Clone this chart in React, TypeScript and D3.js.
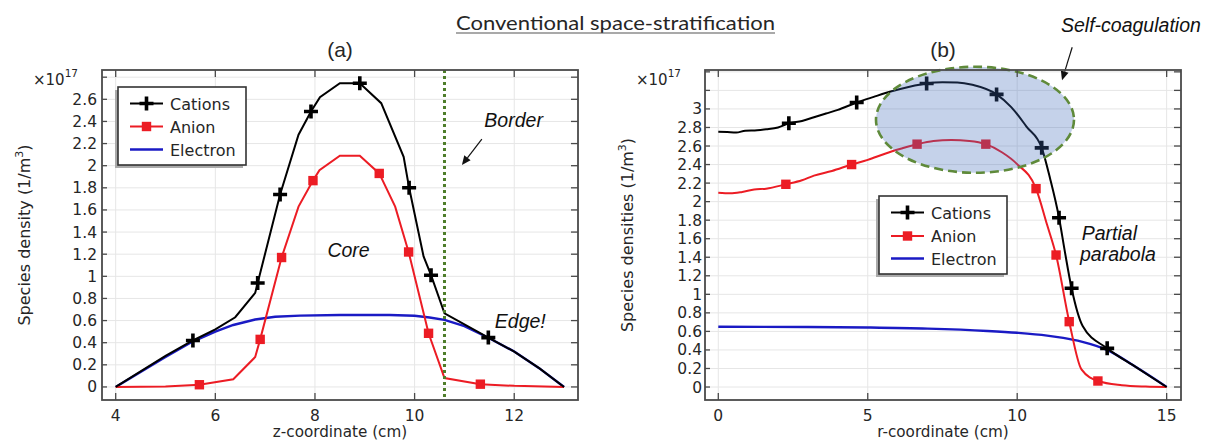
import React from "react";
import * as d3 from "d3";

type Pt = [number, number];

// ---- Panel (a): axial (z) profiles, ×10^17 m^-3 ----
const zTickValues = [4, 6, 8, 10, 12];
const yTickValuesA = [0, 0.2, 0.4, 0.6, 0.8, 1, 1.2, 1.4, 1.6, 1.8, 2, 2.2, 2.4, 2.6];
const yExtraTicksA = [2.8];

const cationsA: Pt[] = [
  [4, 0], [4.5, 0.14], [5, 0.28], [5.55, 0.42], [6, 0.52], [6.4, 0.63], [6.8, 0.85],
  [6.85, 0.94], [7.3, 1.74], [7.67, 2.28], [7.92, 2.49], [8.1, 2.62], [8.5, 2.745],
  [8.9, 2.745], [9.33, 2.565], [9.78, 2.08], [9.89, 1.8], [10.18, 1.18], [10.33, 1.01],
  [10.6, 0.666], [11.48, 0.446], [12, 0.32], [12.5, 0.17], [13, 0],
];
const cationsAMarks = [3, 7, 8, 10, 13, 16, 18, 20];

const anionA: Pt[] = [
  [4, 0], [5, 0.005], [5.68, 0.02], [6.36, 0.07], [6.8, 0.27], [6.9, 0.43], [7.33, 1.17],
  [7.67, 1.63], [7.96, 1.865], [8.09, 1.96], [8.5, 2.09], [8.9, 2.09], [9.29, 1.93],
  [9.61, 1.63], [9.88, 1.22], [10.28, 0.485], [10.6, 0.08], [11.32, 0.025], [12, 0.01], [13, 0],
];
const anionAMarks = [2, 5, 6, 8, 12, 14, 15, 17];

const electronA: Pt[] = [
  [4, 0], [4.5, 0.135], [5, 0.27], [5.5, 0.4], [6, 0.5], [6.36, 0.56], [6.8, 0.61],
  [7.2, 0.635], [7.7, 0.645], [8.5, 0.65], [9.5, 0.65], [10, 0.643], [10.3, 0.628],
  [10.6, 0.606], [11, 0.55], [11.5, 0.44], [12, 0.32], [12.5, 0.17], [13, 0],
];
const borderZ = 10.6;

// ---- Panel (b): radial (r) profiles, ×10^17 m^-3 ----
const rTickValues = [0, 5, 10, 15];
const yTickValuesB = [0, 0.2, 0.4, 0.6, 0.8, 1, 1.2, 1.4, 1.6, 1.8, 2, 2.2, 2.4, 2.6, 2.8, 3];
const yExtraTicksB = [3.2, 3.4];

const cationsB: Pt[] = [
  [0, 2.755], [0.3, 2.75], [0.6, 2.745], [0.9, 2.765], [1.3, 2.77], [1.6, 2.78], [2, 2.8],
  [2.36, 2.845], [2.8, 2.87], [3.2, 2.91], [3.6, 2.95], [4, 2.99], [4.63, 3.07], [5.2, 3.13],
  [5.8, 3.19], [6.4, 3.24], [6.97, 3.275], [7.5, 3.287], [8, 3.285], [8.5, 3.26], [9.31, 3.157],
  [9.8, 3.02], [10.31, 2.81], [10.82, 2.58], [11.1, 2.25], [11.4, 1.826], [11.6, 1.45],
  [11.82, 1.065], [12.19, 0.658], [13.01, 0.417], [14, 0.21], [15, 0],
];
const cationsBMarks = [7, 12, 16, 20, 23, 25, 27, 29];

const anionB: Pt[] = [
  [0, 2.096], [0.4, 2.09], [0.8, 2.105], [1.2, 2.13], [1.6, 2.14], [2.26, 2.187], [2.8, 2.23],
  [3.2, 2.28], [3.8, 2.33], [4.46, 2.4], [5, 2.45], [5.6, 2.52], [6.1, 2.57], [6.65, 2.62],
  [7.2, 2.655], [7.8, 2.665], [8.4, 2.655], [8.95, 2.62], [9.5, 2.53], [9.98, 2.41],
  [10.63, 2.14], [11, 1.75], [11.3, 1.424], [11.74, 0.705], [12.15, 0.19], [12.7, 0.065],
  [13.5, 0.02], [14.3, 0.005], [15, 0],
];
const anionBMarks = [5, 9, 13, 17, 20, 22, 23, 25];

const electronB: Pt[] = [
  [0, 0.65], [3, 0.648], [5, 0.642], [7, 0.63], [9, 0.605], [10, 0.585], [11, 0.555],
  [11.54, 0.53], [12.15, 0.49], [13, 0.4], [14, 0.21], [15, 0],
];

const seriesNames = ["Cations", "Anion", "Electron"];

const BLACK = "#000000";
const RED = "#ec1c24";
const BLUE = "#1a1ac4";
const GRID = "#e6e6e6";
const FRAME = "#4a4a4a";
const TXT = "#262626";
const TICK_FONT = "'DejaVu Sans', sans-serif";
const NOTE_FONT = "'Liberation Sans', Arial, sans-serif";

const fmt = (v: number) => String(+v.toFixed(1));

function Plus({ x, y }: { x: number; y: number }) {
  return <path d={`M${x - 7},${y}H${x + 7}M${x},${y - 7}V${y + 7}`} stroke={BLACK} strokeWidth={3.6} />;
}
function Square({ x, y }: { x: number; y: number }) {
  return <rect x={x - 4.7} y={y - 4.7} width={9.4} height={9.4} fill={RED} />;
}

type PanelProps = {
  left: number; right: number; top: number; bottom: number;
  xDomain: [number, number]; yDomain: [number, number];
  xTicks: number[]; yTicks: number[]; yExtra: number[];
  cations: Pt[]; cMarks: number[]; anion: Pt[]; aMarks: number[]; electron: Pt[];
  curve: d3.CurveFactory;
  yLabel: string; xLabel: string; panelTitle: string;
  labelGap: number;
  legend: { x: number; y: number; w: number; h: number; rows: number[] };
  overlay?: (x: d3.ScaleLinear<number, number>, y: d3.ScaleLinear<number, number>) => React.ReactNode;
};

function Panel(p: PanelProps) {
  const x = d3.scaleLinear().domain(p.xDomain).range([p.left, p.right]);
  const y = d3.scaleLinear().domain(p.yDomain).range([p.bottom, p.top]);
  const line = d3.line<Pt>().x((d) => x(d[0])).y((d) => y(d[1])).curve(p.curve);
  const allY = [...p.yTicks, ...p.yExtra];
  const lg = p.legend;
  const cx = (p.left + p.right) / 2;
  const cy = (p.top + p.bottom) / 2;
  return (
    <g>
      {/* grid */}
      {allY.map((v) => (
        <line key={"gy" + v} x1={p.left} x2={p.right} y1={y(v)} y2={y(v)} stroke={GRID} strokeWidth={1} />
      ))}
      {p.xTicks.map((v) => (
        <line key={"gx" + v} x1={x(v)} x2={x(v)} y1={p.top} y2={p.bottom} stroke={GRID} strokeWidth={1} />
      ))}
      {/* series */}
      <path d={line(p.electron) || ""} fill="none" stroke={BLUE} strokeWidth={2.4} />
      <path d={line(p.anion) || ""} fill="none" stroke={RED} strokeWidth={2} />
      <path d={line(p.cations) || ""} fill="none" stroke={BLACK} strokeWidth={2} />
      {p.aMarks.map((i) => <Square key={"a" + i} x={x(p.anion[i][0])} y={y(p.anion[i][1])} />)}
      {p.cMarks.map((i) => <Plus key={"c" + i} x={x(p.cations[i][0])} y={y(p.cations[i][1])} />)}
      {p.overlay && p.overlay(x, y)}
      {/* frame and ticks */}
      <rect x={p.left} y={p.top} width={p.right - p.left} height={p.bottom - p.top} fill="none" stroke={FRAME} strokeWidth={1.8} />
      {allY.map((v) => (
        <g key={"ty" + v}>
          <line x1={p.left} x2={p.left + 5} y1={y(v)} y2={y(v)} stroke={FRAME} strokeWidth={1.3} />
          <line x1={p.right - 7} x2={p.right} y1={y(v)} y2={y(v)} stroke={FRAME} strokeWidth={1.3} />
        </g>
      ))}
      {p.xTicks.map((v) => (
        <g key={"tx" + v}>
          <line x1={x(v)} x2={x(v)} y1={p.bottom - 7} y2={p.bottom} stroke={FRAME} strokeWidth={1.3} />
          <line x1={x(v)} x2={x(v)} y1={p.top} y2={p.top + 7} stroke={FRAME} strokeWidth={1.3} />
          <text x={x(v)} y={p.bottom + 21} textAnchor="middle" fontFamily={TICK_FONT} fontSize={15.5} fill={TXT}>
            {fmt(v)}
          </text>
        </g>
      ))}
      {p.yTicks.map((v) => (
        <text key={"ly" + v} x={p.left - p.labelGap} y={y(v) + 5.5} textAnchor="end" fontFamily={TICK_FONT} fontSize={15.5} fill={TXT}>
          {fmt(v)}
        </text>
      ))}
      {/* multiplier */}
      <text x={p.left - 69} y={85} fontFamily={TICK_FONT} fontSize={15} fill={TXT}>
        ×10
        <tspan dy={-8} fontSize={10.5}>17</tspan>
      </text>
      {/* axis labels */}
      <text x={cx} y={437} textAnchor="middle" fontFamily={TICK_FONT} fontSize={15.2} fill={TXT}>{p.xLabel}</text>
      <text transform={`translate(${p.left - 72},${cy}) rotate(-90)`} textAnchor="middle" fontFamily={TICK_FONT} fontSize={16} fill={TXT}>
        {p.yLabel} (1/m<tspan dy={-7} fontSize={11}>3</tspan><tspan dy={7}>)</tspan>
      </text>
      <text x={cx} y={57} textAnchor="middle" fontFamily={NOTE_FONT} fontSize={21} fill={TXT}>{p.panelTitle}</text>
      {/* legend */}
      <rect x={lg.x - 3} y={lg.y + 3} width={lg.w} height={lg.h} fill="#aaaaaa" />
      <rect x={lg.x} y={lg.y} width={lg.w} height={lg.h} fill="#ffffff" stroke="#333" strokeWidth={1.6} />
      {seriesNames.map((name, i) => {
        const ry = lg.rows[i];
        const x0 = lg.x + 12, x1 = lg.x + 45;
        const col = i === 0 ? BLACK : i === 1 ? RED : BLUE;
        return (
          <g key={name}>
            <line x1={x0} x2={x1} y1={ry} y2={ry} stroke={col} strokeWidth={i === 2 ? 2.4 : 2} />
            {i === 0 && <Plus x={(x0 + x1) / 2} y={ry} />}
            {i === 1 && <Square x={(x0 + x1) / 2} y={ry} />}
            <text x={lg.x + 52} y={ry + 6} fontFamily={TICK_FONT} fontSize={16} fill={TXT}>{name}</text>
          </g>
        );
      })}
    </g>
  );
}

function Arrow({ x1, y1, x2, y2 }: { x1: number; y1: number; x2: number; y2: number }) {
  const a = Math.atan2(y2 - y1, x2 - x1);
  const L = 9, Wd = 4;
  const bx = x2 - L * Math.cos(a), by = y2 - L * Math.sin(a);
  const px = -Math.sin(a) * Wd, py = Math.cos(a) * Wd;
  return (
    <g>
      <line x1={x1} y1={y1} x2={bx} y2={by} stroke="#111" strokeWidth={1.2} />
      <path d={`M${x2},${y2}L${bx + px},${by + py}L${bx - px},${by - py}Z`} fill="#111" />
    </g>
  );
}

export default function App() {
  return (
    <svg width={1217} height={440} style={{ display: "block", position: "absolute", left: 0, top: 0 }}>
      <rect width={1217} height={440} fill="#ffffff" />
      <text x={456} y={30} fontFamily="Lato, 'Open Sans', sans-serif" fontSize={19} fill={TXT} textLength={319} lengthAdjust="spacingAndGlyphs">
        Conventional space-stratification
      </text>
      <line x1={456} x2={775} y1={33} y2={33} stroke="#555" strokeWidth={1.2} />

      <Panel
        left={102} right={578} top={70} bottom={400}
        xDomain={[3.725, 13.28]} yDomain={[-0.118, 2.865]}
        xTicks={zTickValues} yTicks={yTickValuesA} yExtra={yExtraTicksA}
        cations={cationsA} cMarks={cationsAMarks} anion={anionA} aMarks={anionAMarks} electron={electronA}
        curve={d3.curveLinear}
        yLabel="Species density" xLabel="z-coordinate (cm)" panelTitle="(a)" labelGap={5}
        legend={{ x: 118, y: 87, w: 128, h: 78, rows: [103.5, 126.5, 149.5] }}
        overlay={(x, y) => (
          <g>
            <line x1={x(borderZ)} x2={x(borderZ)} y1={70} y2={400} stroke="#4e7d2a" strokeWidth={3} strokeDasharray="3,3" />
            <text x={x(11.4)} y={y(2.35)} fontFamily={NOTE_FONT} fontStyle="italic" fontSize={19.5} fill="#111">Border</text>
            <Arrow x1={x(11.35)} y1={y(2.24)} x2={x(10.95)} y2={y(2.007)} />
            <text x={x(8.25)} y={y(1.175)} fontFamily={NOTE_FONT} fontStyle="italic" fontSize={19.5} fill="#111">Core</text>
            <text x={x(11.61)} y={y(0.533)} fontFamily={NOTE_FONT} fontStyle="italic" fontSize={19.5} fill="#111">Edge!</text>
          </g>
        )}
      />

      <Panel
        left={705} right={1181} top={70} bottom={400}
        xDomain={[-0.445, 15.48]} yDomain={[-0.14, 3.42]}
        xTicks={rTickValues} yTicks={yTickValuesB} yExtra={yExtraTicksB}
        cations={cationsB} cMarks={cationsBMarks} anion={anionB} aMarks={anionBMarks} electron={electronB}
        curve={d3.curveMonotoneX}
        yLabel="Species densities" xLabel="r-coordinate (cm)" panelTitle="(b)" labelGap={3}
        legend={{ x: 879, y: 196, w: 128, h: 78, rows: [212.5, 236, 258.5] }}
        overlay={(x, y) => {
          const ex = x(8.588), ey = y(2.883);
          const rx = x(8.588 + 3.312) - ex, ry = ey - y(2.883 + 0.572);
          return (
            <g>
              <ellipse cx={ex} cy={ey} rx={rx} ry={ry} fill="rgb(62,105,185)" fillOpacity={0.3} stroke="#5f8a3a" strokeWidth={2.6} strokeDasharray="9,5" />
              <text x={x(11.465)} y={y(3.83)} fontFamily={NOTE_FONT} fontStyle="italic" fontSize={19.5} fill="#111">Self-coagulation</text>
              <Arrow x1={x(11.84)} y1={y(3.665)} x2={x(11.5)} y2={y(3.31)} />
              <text x={x(12.16)} y={y(1.586)} fontFamily={NOTE_FONT} fontStyle="italic" fontSize={19.5} fill="#111">Partial</text>
              <text x={x(12.1)} y={y(1.36)} fontFamily={NOTE_FONT} fontStyle="italic" fontSize={19.5} fill="#111">parabola</text>
            </g>
          );
        }}
      />
    </svg>
  );
}
